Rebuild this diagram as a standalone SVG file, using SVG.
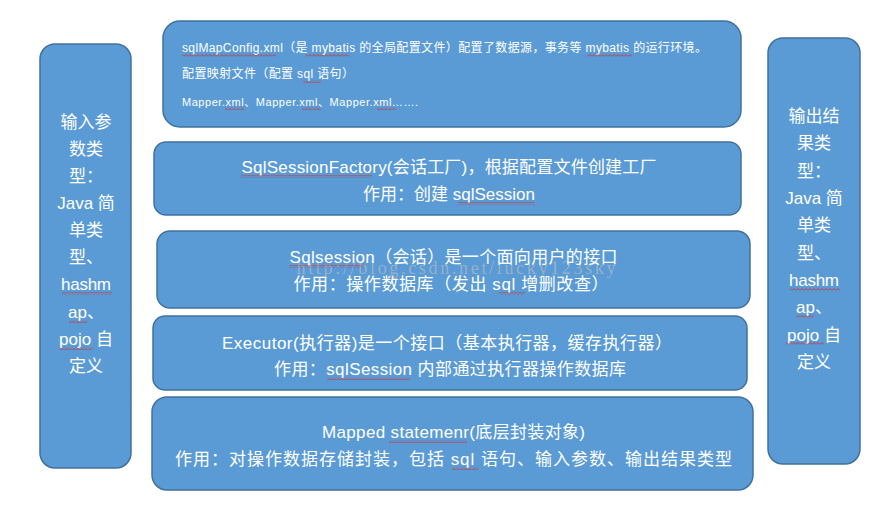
<svg xmlns="http://www.w3.org/2000/svg" width="893" height="514" viewBox="0 0 893 514">
<style>
.box{fill:#5B9BD5;stroke:#41719C;stroke-width:1.5}
.t{fill:#ffffff;font-family:"Liberation Sans","Noto Sans CJK SC",sans-serif;font-size:17px}
.m{text-anchor:middle}
.s{font-size:12px}
.wm{fill:#aab8c6;fill-opacity:0.75;font-family:"Liberation Serif","DejaVu Serif",serif;font-size:18px;text-anchor:middle}
.w{fill:url(#wave)}
</style>
<defs>
<pattern id="wave" patternUnits="userSpaceOnUse" width="4" height="3">
<path d="M0 2.5 L2 0.5 L4 2.5" fill="none" stroke="#e02020" stroke-width="0.8"/>
</pattern>
</defs>
<rect width="893" height="514" fill="#ffffff"/>

<g id="input-types">
<rect class="box" x="40" y="44" width="91" height="424" rx="15"/>
<g class="t m">
<text x="86" y="128">输入参</text>
<text x="86" y="155">数类</text>
<text x="86" y="182">型：</text>
<text x="86" y="209">Java 简</text>
<text x="86" y="236">单类</text>
<text x="86" y="263">型、</text>
<text x="86" y="290" textLength="50">hashm</text>
<text x="86" y="318">ap、</text>
<text x="86" y="345">pojo 自</text>
<text x="86" y="372">定义</text>
</g>
<rect class="w" x="62" y="292" width="50" height="3"/>
<rect class="w" x="69" y="320" width="18" height="3"/>
<rect class="w" x="59" y="347" width="34" height="3"/>
</g>

<g id="output-types">
<rect class="box" x="768" y="38" width="92" height="426" rx="15"/>
<g class="t m">
<text x="814" y="122">输出结</text>
<text x="814" y="149">果类</text>
<text x="814" y="176.5">型：</text>
<text x="814" y="204">Java 简</text>
<text x="814" y="231">单类</text>
<text x="814" y="258.5">型、</text>
<text x="814" y="286" textLength="50">hashm</text>
<text x="814" y="313">ap、</text>
<text x="814" y="340.5">pojo 自</text>
<text x="814" y="368">定义</text>
</g>
<rect class="w" x="790" y="288" width="50" height="3"/>
<rect class="w" x="796" y="315" width="18" height="3"/>
<rect class="w" x="786" y="342" width="38" height="3"/>
</g>

<g id="config">
<rect class="box" x="163" y="21" width="578" height="106" rx="17"/>
<text class="t s" x="182" y="52" textLength="525">sqlMapConfig.xml（是 mybatis 的全局配置文件）配置了数据源，事务等 mybatis 的运行环境。</text>
<text class="t s" x="182" y="78" textLength="172">配置映射文件（配置 sql 语句）</text>
<text class="t" x="182" y="106" style="font-size:11px" textLength="236">Mapper.xml、Mapper.xml、Mapper.xml…….</text>
<rect class="w" x="182" y="54" width="94" height="3"/>
<rect class="w" x="306" y="54" width="43" height="3"/>
<rect class="w" x="587" y="54" width="45" height="3"/>
<rect class="w" x="303" y="80" width="18" height="3"/>
<rect class="w" x="225" y="107" width="19" height="3"/>
<rect class="w" x="302" y="107" width="19" height="3"/>
<rect class="w" x="377" y="107" width="19" height="3"/>
</g>

<g id="sqlsessionfactory">
<rect class="box" x="154" y="142" width="587" height="73" rx="12"/>
<text class="t m" x="449" y="173" textLength="415">SqlSessionFactory(会话工厂)，根据配置文件创建工厂</text>
<text class="t m" x="449" y="200" textLength="172">作用：创建 sqlSession</text>
<rect class="w" x="241" y="175" width="131" height="3"/>
<rect class="w" x="458" y="202" width="77" height="3"/>
</g>

<g id="sqlsession">
<rect class="box" x="157" y="231" width="593" height="77" rx="13"/>
<text class="wm" x="456" y="274" textLength="319">http://blog.csdn.net/lucky123sky</text>
<text class="t m" x="453.5" y="263" textLength="328">Sqlsession（会话）是一个面向用户的接口</text>
<text class="t m" x="451" y="290" textLength="315">作用：操作数据库（发出 sql 增删改查）</text>
<rect class="w" x="289" y="265" width="75" height="3"/>
<rect class="w" x="499" y="292" width="26" height="3"/>
</g>

<g id="executor">
<rect class="box" x="153" y="316" width="594" height="74" rx="12"/>
<text class="t m" x="447" y="349" textLength="450">Executor(执行器)是一个接口（基本执行器，缓存执行器）</text>
<text class="t m" x="450" y="375" textLength="352">作用：sqlSession 内部通过执行器操作数据库</text>
<rect class="w" x="327" y="377" width="83" height="3"/>
</g>

<g id="mappedstatement">
<rect class="box" x="152" y="397" width="601" height="93" rx="15"/>
<text class="t m" x="453.5" y="438" textLength="263">Mapped statemenr(底层封装对象)</text>
<text class="t m" x="453.5" y="465" textLength="557">作用：对操作数据存储封装，包括 sql 语句、输入参数、输出结果类型</text>
<rect class="w" x="389" y="440" width="78" height="3"/>
<rect class="w" x="452" y="467" width="26" height="3"/>
</g>

<g id="connectors"></g>
</svg>
